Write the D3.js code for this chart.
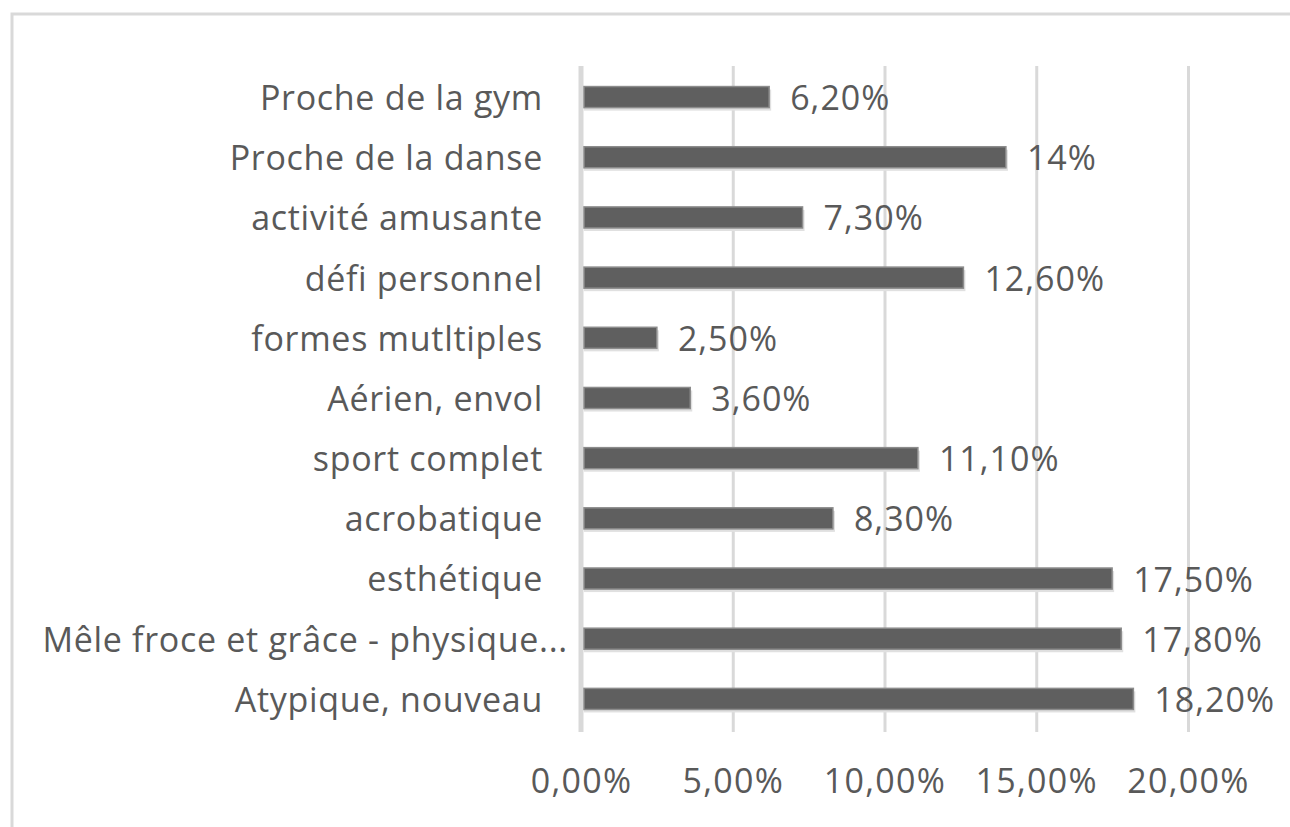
<!DOCTYPE html>
<html>
<head>
<meta charset="utf-8">
<script src="https://cdn.jsdelivr.net/npm/d3@7"></script>
<style>
  body { margin: 0; background: #fff; }
  text { font-family: "Open Sans", sans-serif; fill: #595959; }
</style>
</head>
<body>
<div id="vis"></div>
<script>
const WIDTH = 1290;
const HEIGHT = 827;

const CATEGORIES = [
  "Proche de la gym",
  "Proche de la danse",
  "activité amusante",
  "défi personnel",
  "formes mutltiples",
  "Aérien, envol",
  "sport complet",
  "acrobatique",
  "esthétique",
  "Mêle froce et grâce - physique...",
  "Atypique, nouveau"
];
const VALUES = [0.062, 0.14, 0.073, 0.126, 0.025, 0.036, 0.111, 0.083, 0.175, 0.178, 0.182];
const VALUE_LABELS = ["6,20%", "14%", "7,30%", "12,60%", "2,50%", "3,60%", "11,10%", "8,30%", "17,50%", "17,80%", "18,20%"];
const X_TICKS = [0, 0.05, 0.10, 0.15, 0.20];

const PLOT = {left: 581, right: 1188, top: 66, bottom: 732};

const FR = d3.formatLocale({decimal: ",", thousands: " ", grouping: [3], currency: ["", " €"]});

const FRAME = d3.select("#vis")
  .append("svg")
    .attr("width", WIDTH)
    .attr("height", HEIGHT);

// outer chart border (runs off the right / bottom)
FRAME.append("rect")
  .attr("x", 12).attr("y", 14)
  .attr("width", WIDTH + 20).attr("height", HEIGHT + 20)
  .attr("fill", "none")
  .attr("stroke", "#d9d9d9")
  .attr("stroke-width", 3);

const X_SCALE = d3.scaleLinear()
  .domain([0, 0.2])
  .range([PLOT.left, PLOT.right]);

const Y_SCALE = d3.scaleBand()
  .domain(CATEGORIES)
  .range([PLOT.top + 1, PLOT.bottom - 3])
  .paddingInner(0.65)
  .paddingOuter(0.325);

// gridlines + tick labels
const xAxis = FRAME.append("g")
  .attr("transform", `translate(0,${PLOT.bottom})`)
  .call(d3.axisBottom(X_SCALE)
    .tickValues(X_TICKS)
    .tickFormat(FR.format(".2%"))
    .tickSize(-(PLOT.bottom - PLOT.top))
    .tickPadding(37));
xAxis.select(".domain").remove();
xAxis.selectAll("line")
  .attr("stroke", "#d9d9d9")
  .attr("stroke-width", 3);
xAxis.selectAll("text")
  .attr("font-size", 34)
  .attr("letter-spacing", "1.3px")
  .attr("fill", "#595959");

// vertical category axis line
FRAME.append("line")
  .attr("x1", X_SCALE(0)).attr("x2", X_SCALE(0))
  .attr("y1", PLOT.top).attr("y2", PLOT.bottom)
  .attr("stroke", "#d9d9d9")
  .attr("stroke-width", 5);

// category labels (Excel pushes the truncated one a bit to the right)
const yAxis = FRAME.append("g")
  .attr("transform", "translate(543,0)")
  .call(d3.axisLeft(Y_SCALE).tickSize(0).tickPadding(0));
yAxis.select(".domain").remove();
yAxis.selectAll("text")
  .attr("font-size", 34)
  .attr("letter-spacing", "0.7px")
  .attr("dy", "0.38em")
  .attr("dx", (d) => d.endsWith("...") ? 25 : 0)
  .attr("fill", "#595959");

const data = CATEGORIES.map((c, i) => ({cat: c, val: VALUES[i], label: VALUE_LABELS[i]}));

// soft shadow under bars
FRAME.selectAll(".shadow")
  .data(data)
  .enter()
  .append("rect")
    .attr("class", "shadow")
    .attr("x", X_SCALE(0) + 3)
    .attr("y", (d) => Y_SCALE(d.cat) + 3)
    .attr("width", (d) => X_SCALE(d.val) - X_SCALE(0) - 1)
    .attr("height", Y_SCALE.bandwidth())
    .attr("fill", "#e0e0e0");

FRAME.selectAll(".bar")
  .data(data)
  .enter()
  .append("rect")
    .attr("class", "bar")
    .attr("x", X_SCALE(0) + 3)
    .attr("y", (d) => Y_SCALE(d.cat))
    .attr("width", (d) => X_SCALE(d.val) - X_SCALE(0) - 3)
    .attr("height", Y_SCALE.bandwidth())
    .attr("fill", "#5f5f5f")
    .attr("stroke", "#8c8c8c")
    .attr("stroke-width", 1.5);

FRAME.selectAll(".vlabel")
  .data(data)
  .enter()
  .append("text")
    .attr("class", "vlabel")
    .attr("x", (d) => X_SCALE(d.val) + 21)
    .attr("y", (d) => Y_SCALE(d.cat) + Y_SCALE.bandwidth() / 2 + 13)
    .attr("font-size", 34)
    .attr("letter-spacing", "1px")
    .text((d) => d.label);
</script>
</body>
</html>
